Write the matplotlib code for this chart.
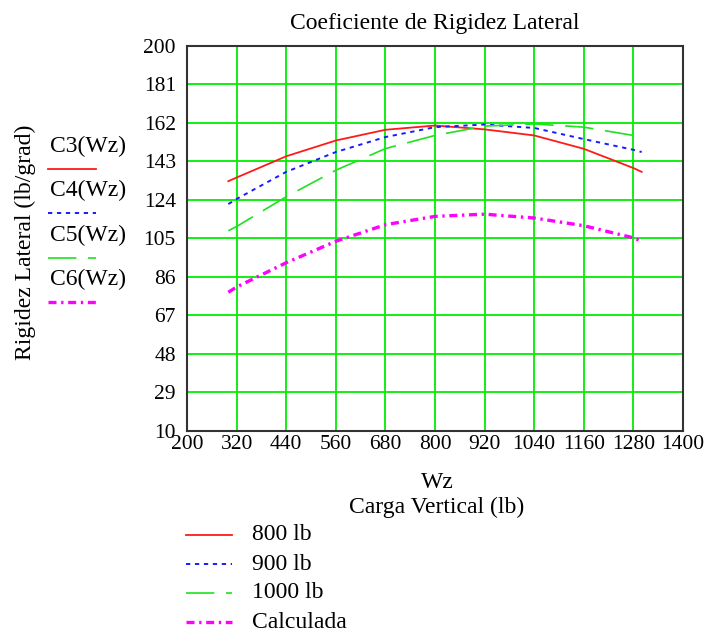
import matplotlib
matplotlib.use("Agg")
import matplotlib.pyplot as plt
from matplotlib.lines import Line2D

plt.rcParams['font.family'] = ['Liberation Serif', 'DejaVu Serif']

# data (Wz in lb, rigidez in lb/grad)
wz = [300, 320, 440, 560, 680, 800, 920, 1040, 1160, 1280, 1300]
c3 = [133.2, 135.0, 145.5, 153.3, 158.6, 160.7, 158.8, 155.8, 149.2, 139.7, 137.8]
c4 = [121.9, 124.4, 137.8, 147.6, 155.0, 159.9, 161.2, 159.5, 154.0, 148.7, 147.6]
c5 = [108.7, 110.8, 125.5, 138.6, 149.3, 155.8, 160.4, 161.5, 159.9, 155.8, 154.1]
c6 = [78.3, 80.9, 92.9, 103.5, 111.7, 115.8, 116.9, 115.0, 111.2, 105.2, 103.5]

xticks = [200, 320, 440, 560, 680, 800, 920, 1040, 1160, 1280, 1400]
yticks = [10, 29, 48, 67, 86, 105, 124, 143, 162, 181, 200]

top_labels = ["C3(Wz)", "C4(Wz)", "C5(Wz)", "C6(Wz)"]
bottom_labels = ["800 lb", "900 lb", "1000 lb", "Calculada"]

# dashes get scaled by lw
styles = [
    dict(color='#ff1a1a', lw=1.3, ls='-'),
    dict(color='#1a1aff', lw=1.4, dashes=(2.2, 2.4)),
    dict(color='#20e020', lw=1.2, dashes=(17, 7)),
    dict(color='#ff00ff', lw=2.4, dashes=(2.4, 1.4, 0.7, 1.4)),
]

W, H = 710, 636
fig = plt.figure(figsize=(W / 100, H / 100), dpi=100)
ax = fig.add_axes([187 / W, 1 - 430.5 / H, (683 - 187) / W, (430.5 - 46) / H])

for y, st in zip([c3, c4, c5, c6], styles):
    ax.plot(wz, y, **st)

ax.set_xlim(200, 1400)
ax.set_ylim(10, 200)
ax.set_xticks(xticks)
ax.set_yticks(yticks)
ax.grid(True, color='#00ee00', lw=1.3)
ax.set_axisbelow(True)
ax.tick_params(axis='x', length=0, labelsize=15.5, pad=3.5)
ax.tick_params(axis='y', length=0, labelsize=15.5, pad=8)
for s in ax.spines.values():
    s.set_color('#333333')
    s.set_linewidth(1.5)

fs = 17
fig.text(435 / W, 1 - 23 / H, "Coeficiente de Rigidez Lateral", ha='center', va='center', fontsize=fs)
fig.text(25 / W, 1 - 242 / H, "Rigidez Lateral (lb/grad)", rotation=90, ha='center', va='center', fontsize=fs)
fig.text(437 / W, 1 - 483 / H, "Wz", ha='center', va='center', fontsize=fs)
fig.text(437 / W, 1 - 507 / H, "Carga Vertical (lb)", ha='center', va='center', fontsize=fs)

# left legend (Mathcad trace names)
for i, (lab, st) in enumerate(zip(top_labels, styles)):
    ty = 146 + 44.5 * i
    fig.text(50 / W, 1 - ty / H, lab, ha='left', va='center', fontsize=fs)
    ly = 1 - (ty + 22.5) / H
    fig.add_artist(Line2D([48 / W, 96 / W], [ly, ly], transform=fig.transFigure, **st))

# bottom legend
for i, (lab, st) in enumerate(zip(bottom_labels, styles)):
    ty = 535 + 29 * i
    fig.text(252 / W, 1 - ty / H, lab, ha='left', va='center', fontsize=fs)
    fig.add_artist(Line2D([186 / W, 232 / W], [1 - ty / H, 1 - ty / H], transform=fig.transFigure, **st))

fig.savefig("out.png", dpi=100)
